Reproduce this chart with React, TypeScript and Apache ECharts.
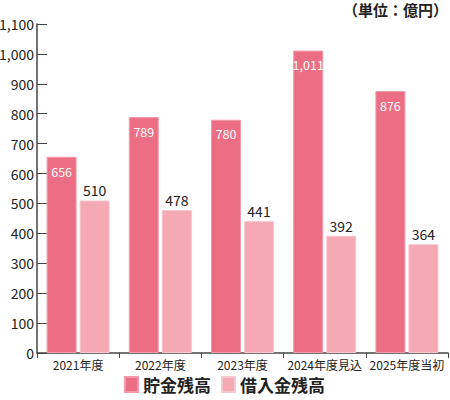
import React, { useEffect, useRef } from 'react';
import * as echarts from 'echarts';

const categories = ['2021年度', '2022年度', '2023年度', '2024年度見込', '2025年度当初'];
const savings = [656, 789, 780, 1011, 876];
const borrowings = [510, 478, 441, 392, 364];
const seriesNames = ['貯金残高', '借入金残高'];

const NUM_FONT = '"Liberation Sans Narrow", "Noto Sans CJK JP", sans-serif';
const JP_FONT = '"Noto Sans CJK JP", sans-serif';

const App: React.FC = () => {
  const chartRef = useRef<HTMLDivElement>(null);

  useEffect(() => {
    if (!chartRef.current) return;
    const chart = echarts.init(chartRef.current, undefined, { renderer: 'svg' });

    const option = {
      animation: false,
      title: {
        text: '（単位：億円）',
        right: 2,
        top: 2,
        padding: 0,
        textStyle: { fontFamily: JP_FONT, fontSize: 15, fontWeight: 'bold', color: '#222' },
      },
      legend: {
        data: seriesNames,
        left: 124,
        top: 376,
        padding: 0,
        itemWidth: 13,
        itemHeight: 15,
        itemGap: 10,
        icon: 'rect',
        textStyle: { fontFamily: JP_FONT, fontSize: 17, fontWeight: 'bold', color: '#222' },
      },
      grid: { left: 37, right: 2, top: 24, bottom: 47, containLabel: false, outerBoundsMode: 'none' },
      xAxis: {
        type: 'category',
        data: categories,
        axisLine: { lineStyle: { color: '#444', width: 1.5 } },
        axisTick: { show: true, length: 5, lineStyle: { color: '#444' } },
        axisLabel: { fontFamily: NUM_FONT, fontSize: 12, color: '#222', margin: 5, interval: 0 },
      },
      yAxis: {
        type: 'value',
        min: 0,
        max: 1100,
        interval: 100,
        splitLine: { show: false },
        axisLine: { show: true, lineStyle: { color: '#444', width: 1.5 } },
        axisTick: { show: true, inside: true, length: 10, lineStyle: { color: '#444' } },
        axisLabel: {
          fontFamily: NUM_FONT,
          fontSize: 14,
          color: '#222',
          margin: 3,
          formatter: (v: number) => v.toLocaleString('en-US'),
        },
      },
      series: [
        {
          name: seriesNames[0],
          type: 'bar',
          data: savings,
          barWidth: 30,
          barGap: '10%',
          itemStyle: { color: '#eb6e84', borderColor: '#f39aaa', borderWidth: 1 },
          label: {
            show: true,
            position: 'insideTop',
            distance: 8,
            color: '#fff',
            fontFamily: NUM_FONT,
            fontSize: 12.5,
            formatter: (p: any) => Number(p.value).toLocaleString('en-US'),
          },
        },
        {
          name: seriesNames[1],
          type: 'bar',
          data: borrowings,
          barWidth: 30,
          itemStyle: { color: '#f4a9b5', borderColor: '#f8c6ce', borderWidth: 1 },
          label: {
            show: true,
            position: 'top',
            distance: 3,
            color: '#222',
            fontFamily: NUM_FONT,
            fontSize: 14,
          },
        },
      ],
    };

    chart.setOption(option);
    return () => {
      chart.dispose();
    };
  }, []);

  return (
    <div
      ref={chartRef}
      style={{ position: 'fixed', left: 0, top: 0, width: '450px', height: '400px', background: '#fff' }}
    />
  );
};

export default App;
